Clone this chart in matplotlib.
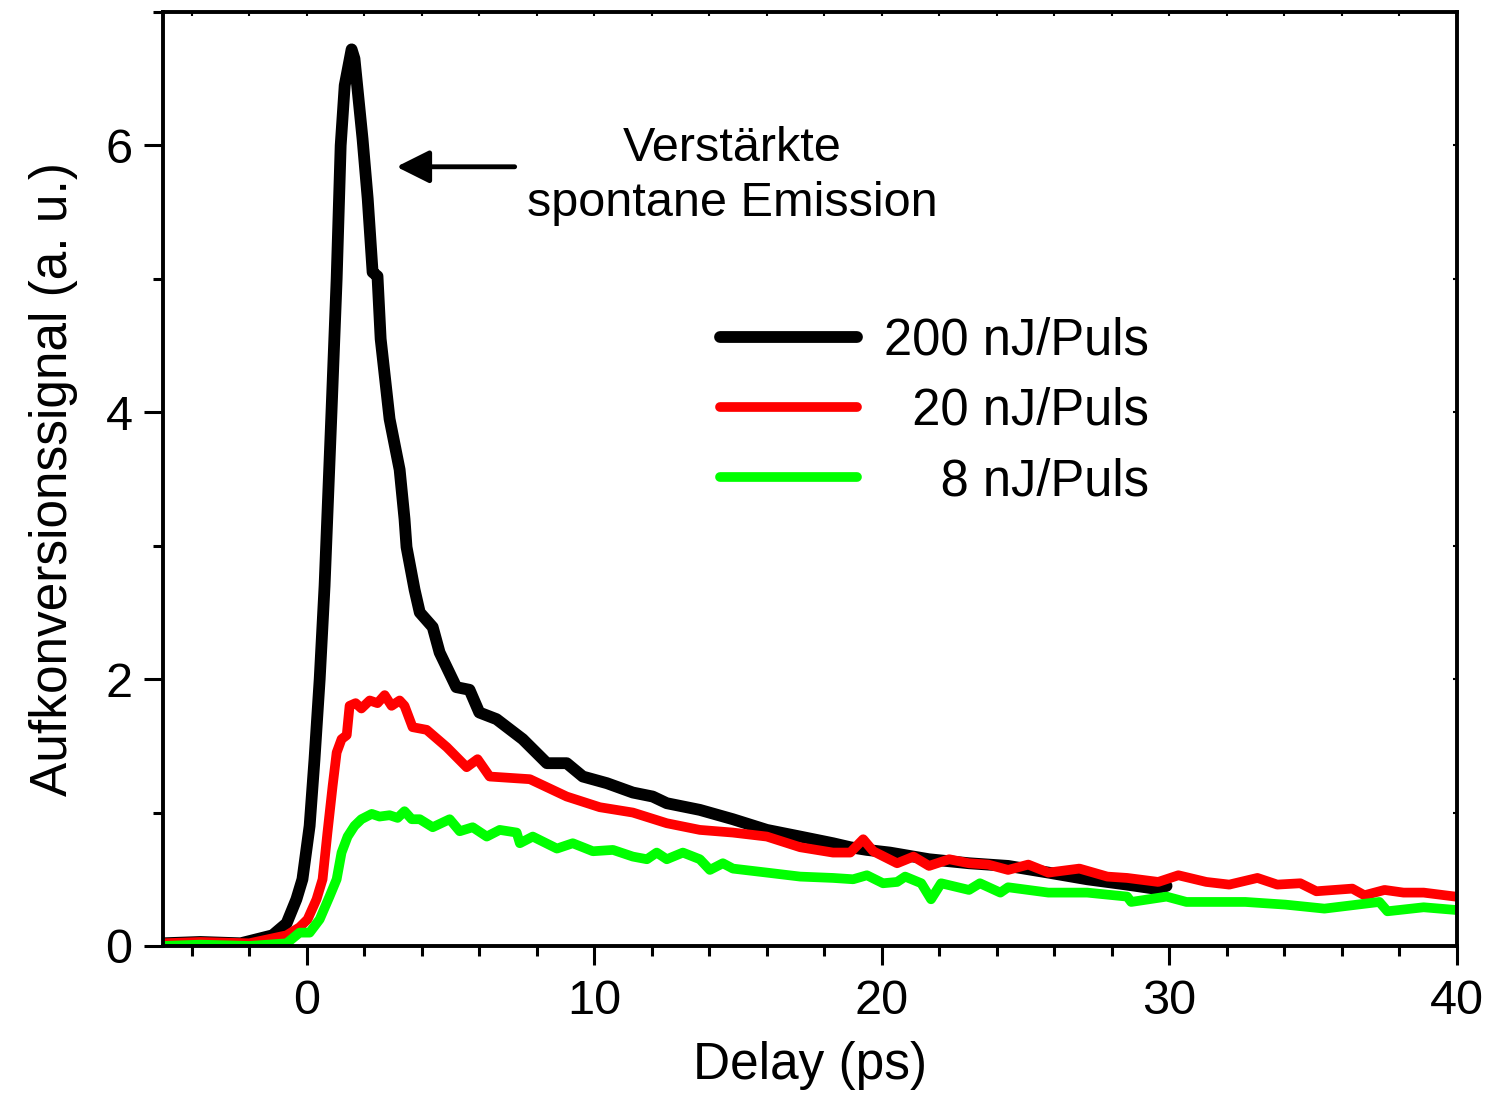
import matplotlib.pyplot as plt
from matplotlib.ticker import MultipleLocator

plt.rcParams['font.family'] = ['Liberation Sans', 'DejaVu Sans']

# 200 nJ/Puls
x_200 = [-5.0, -3.7, -2.3, -1.19, -0.7, -0.36, -0.15, 0.1, 0.27, 0.45, 0.62, 0.86,
         1.04, 1.18, 1.32, 1.56, 1.66, 1.94, 2.12, 2.29, 2.46, 2.57, 2.88, 3.23,
         3.4, 3.47, 3.75, 3.93, 4.38, 4.62, 5.2, 5.66, 6.0, 6.6, 7.51, 8.35, 9.04,
         9.6, 10.44, 11.34, 12.03, 12.52, 13.67, 14.82, 16.0, 17.16, 18.3, 18.9,
         19.48, 20.28, 21.64, 23.03, 24.39, 25.79, 27.14, 28.53, 29.48, 29.9]
y_200 = [0.02, 0.03, 0.02, 0.08, 0.17, 0.35, 0.5, 0.9, 1.4, 2.0, 2.7, 4.0,
         5.0, 6.0, 6.45, 6.72, 6.65, 6.05, 5.6, 5.05, 5.02, 4.55, 3.95, 3.57,
         3.2, 2.99, 2.67, 2.5, 2.39, 2.2, 1.94, 1.92, 1.75, 1.7, 1.55, 1.37, 1.37,
         1.27, 1.22, 1.15, 1.12, 1.07, 1.02, 0.95, 0.87, 0.82, 0.77, 0.74,
         0.72, 0.7, 0.65, 0.62, 0.6, 0.55, 0.5, 0.46, 0.43, 0.45]

# 20 nJ/Puls
x_20 = [-5.0, -3.7, -2.0, -0.7, -0.25, 0.03, 0.34, 0.55, 0.72, 0.9, 1.04, 1.21,
        1.39, 1.49, 1.7, 1.9, 2.19, 2.46, 2.71, 2.95, 3.23, 3.4, 3.68, 4.17,
        4.87, 5.56, 5.94, 6.36, 7.76, 9.04, 10.19, 11.34, 12.52, 13.67, 14.82,
        16.0, 17.16, 18.3, 18.9, 19.35, 19.7, 20.53, 21.1, 21.64, 22.34, 23.03,
        23.7, 24.39, 25.09, 25.79, 26.87, 27.84, 28.53, 29.61, 30.31, 31.28,
        32.08, 33.06, 33.75, 34.55, 35.11, 36.36, 36.78, 37.48, 38.14, 38.84, 39.95]
y_20 = [0.02, 0.03, 0.02, 0.08, 0.14, 0.2, 0.35, 0.5, 0.85, 1.2, 1.45, 1.55,
        1.58, 1.8, 1.82, 1.78, 1.84, 1.82, 1.88, 1.8, 1.84, 1.8, 1.64, 1.62,
        1.49, 1.34, 1.4, 1.27, 1.25, 1.12, 1.04, 1.0, 0.92, 0.87, 0.85,
        0.82, 0.74, 0.7, 0.7, 0.8, 0.71, 0.62, 0.67, 0.6, 0.65, 0.62,
        0.61, 0.57, 0.61, 0.55, 0.58, 0.52, 0.51, 0.48, 0.53, 0.48,
        0.46, 0.51, 0.46, 0.47, 0.41, 0.43, 0.38, 0.42, 0.4, 0.4, 0.37]

# 8 nJ/Puls
x_8 = [-5.0, -3.7, -2.0, -0.7, -0.25, 0.1, 0.45, 0.79, 1.04, 1.21, 1.42, 1.66,
       1.9, 2.26, 2.53, 2.88, 3.16, 3.4, 3.65, 3.93, 4.38, 4.97, 5.32, 5.77,
       6.26, 6.71, 7.3, 7.41, 7.86, 8.7, 9.25, 9.95, 10.65, 11.34, 11.83, 12.17,
       12.52, 13.08, 13.67, 14.02, 14.47, 14.82, 16.0, 17.16, 18.3, 19.0, 19.48,
       20.04, 20.53, 20.81, 21.37, 21.71, 22.06, 23.03, 23.41, 24.12, 24.39,
       25.79, 27.14, 28.53, 28.67, 29.9, 30.59, 32.64, 34.03, 35.39, 37.3,
       37.58, 38.84, 39.95]
y_8 = [0.0, 0.01, 0.0, 0.02, 0.1, 0.1, 0.2, 0.37, 0.5, 0.7, 0.82, 0.9,
       0.95, 0.99, 0.97, 0.98, 0.96, 1.01, 0.95, 0.95, 0.89, 0.95, 0.86, 0.89,
       0.82, 0.87, 0.85, 0.77, 0.82, 0.73, 0.77, 0.71, 0.72, 0.67, 0.65, 0.7,
       0.65, 0.7, 0.65, 0.57, 0.62, 0.58, 0.55, 0.52, 0.51, 0.5, 0.53,
       0.47, 0.48, 0.52, 0.47, 0.35, 0.47, 0.42, 0.47, 0.4, 0.44,
       0.4, 0.4, 0.37, 0.33, 0.37, 0.33, 0.33, 0.31, 0.28, 0.33,
       0.26, 0.29, 0.27]

fig = plt.figure(figsize=(14.91, 11.12), dpi=100)
ax = fig.add_axes([0.1093, 0.1493, 0.8679, 0.8399])

ax.plot(x_200, y_200, color='#000000', lw=8.5, solid_joinstyle='round',
        solid_capstyle='round', label='200 nJ/Puls')
ax.plot(x_20, y_20, color='#ff0000', lw=7, solid_joinstyle='round',
        solid_capstyle='round', label='  20 nJ/Puls')
ax.plot(x_8, y_8, color='#00ff00', lw=7, solid_joinstyle='round',
        solid_capstyle='round', label='    8 nJ/Puls')

ax.set_xlim(-5, 40)
ax.set_ylim(0, 7)
ax.xaxis.set_major_locator(MultipleLocator(10))
ax.xaxis.set_minor_locator(MultipleLocator(2))
ax.yaxis.set_major_locator(MultipleLocator(2))
ax.yaxis.set_minor_locator(MultipleLocator(1))
ax.tick_params(which='major', direction='out', length=14, width=2.2,
               labelsize=35, pad=8)
ax.tick_params(which='minor', direction='out', length=7, width=2.2)
ax.tick_params(axis='x', which='major', pad=10)
for s in ax.spines.values():
    s.set_linewidth(2.8)

# tiny inward ticks on top and right
top = ax.secondary_xaxis('top')
top.xaxis.set_major_locator(MultipleLocator(2))
top.tick_params(direction='in', length=3, width=1.5, labeltop=False)
right = ax.secondary_yaxis('right')
right.yaxis.set_major_locator(MultipleLocator(1))
right.tick_params(direction='in', length=3, width=1.5, labelright=False)

ax.set_xlabel('Delay (ps)', fontsize=37, labelpad=12)
ax.set_ylabel('Aufkonversionssignal (a. u.)', fontsize=37, labelpad=20)

ax.annotate('', xy=(3.12, 5.84), xytext=(7.23, 5.84),
            arrowprops=dict(arrowstyle='-|>', mutation_scale=50, lw=3.5,
                            color='k', shrinkA=0, shrinkB=0))
ax.text(14.8, 5.77, 'Verstärkte\nspontane Emission', fontsize=35,
        ha='center', va='center', linespacing=1.29)

ax.legend(loc='upper left', bbox_to_anchor=(0.4304, 0.674), frameon=False,
          fontsize=36.5, handlelength=2.7, handletextpad=0.54, labelspacing=0.42,
          borderpad=0, borderaxespad=0)

fig.savefig('out.png', dpi=100)
